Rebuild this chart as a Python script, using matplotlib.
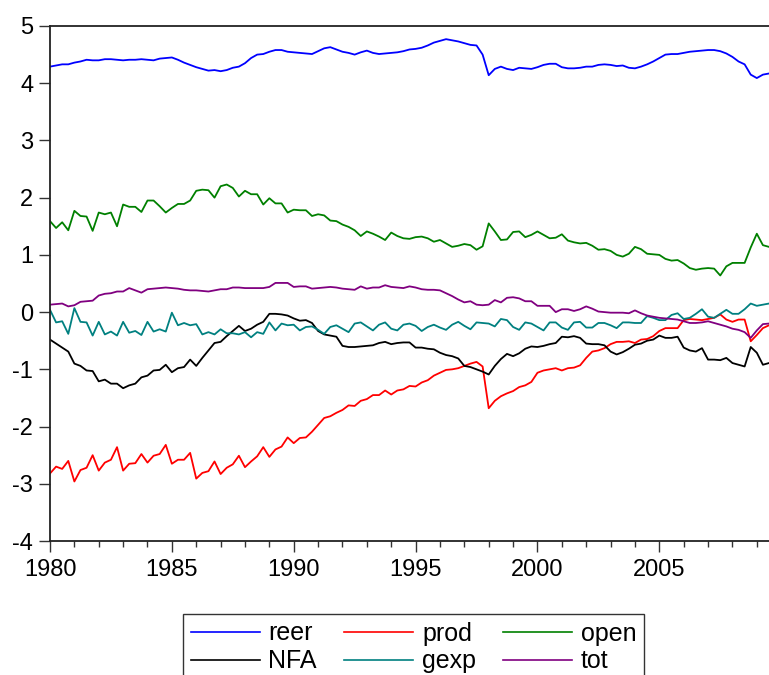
import numpy as np
import matplotlib
matplotlib.use("Agg")
import matplotlib.pyplot as plt
from matplotlib.ticker import MultipleLocator

plt.rcParams['font.family'] = ['Liberation Sans', 'DejaVu Sans']
plt.rcParams['axes.unicode_minus'] = False

# quarterly series, 1980Q1 - 2009Q3
start_year = 1980
n_obs = 119

reer = [4.29, 4.31, 4.33, 4.33, 4.36, 4.38, 4.41, 4.40, 4.40, 4.42,
        4.42, 4.41, 4.40, 4.41, 4.41, 4.42, 4.41, 4.40, 4.43, 4.44,
        4.45, 4.41, 4.36, 4.32, 4.28, 4.25, 4.22, 4.23, 4.21, 4.23,
        4.27, 4.29, 4.35, 4.44, 4.50, 4.51, 4.55, 4.58, 4.58, 4.55,
        4.54, 4.53, 4.52, 4.51, 4.56, 4.61, 4.63, 4.59, 4.55, 4.53,
        4.50, 4.54, 4.57, 4.53, 4.51, 4.52, 4.53, 4.54, 4.56, 4.59,
        4.60, 4.62, 4.66, 4.71, 4.74, 4.77, 4.75, 4.73, 4.70, 4.67,
        4.66, 4.50, 4.14, 4.25, 4.29, 4.25, 4.23, 4.27, 4.26, 4.25,
        4.28, 4.32, 4.34, 4.34, 4.28, 4.26, 4.26, 4.27, 4.29, 4.29,
        4.32, 4.33, 4.32, 4.30, 4.31, 4.27, 4.26, 4.29, 4.33, 4.38,
        4.44, 4.50, 4.51, 4.51, 4.53, 4.55, 4.56, 4.57, 4.58, 4.58,
        4.56, 4.52, 4.46, 4.38, 4.33, 4.15, 4.09, 4.15, 4.17]

prod = [-2.82, -2.70, -2.74, -2.60, -2.96, -2.76, -2.72, -2.50, -2.77, -2.63,
        -2.58, -2.36, -2.77, -2.65, -2.64, -2.48, -2.63, -2.51, -2.48, -2.32,
        -2.65, -2.58, -2.58, -2.46, -2.91, -2.81, -2.78, -2.61, -2.83, -2.72,
        -2.66, -2.51, -2.71, -2.61, -2.52, -2.36, -2.53, -2.40, -2.35, -2.19,
        -2.29, -2.20, -2.19, -2.09, -1.97, -1.85, -1.82, -1.76, -1.71, -1.63,
        -1.64, -1.55, -1.52, -1.45, -1.45, -1.37, -1.44, -1.37, -1.35, -1.29,
        -1.30, -1.23, -1.19, -1.11, -1.06, -1.01, -1.00, -0.98, -0.94, -0.90,
        -0.87, -0.95, -1.68, -1.55, -1.47, -1.42, -1.38, -1.31, -1.28, -1.22,
        -1.06, -1.02, -1.00, -0.98, -1.02, -0.98, -0.97, -0.93, -0.80, -0.69,
        -0.67, -0.63, -0.56, -0.52, -0.52, -0.51, -0.54, -0.48, -0.47, -0.42,
        -0.33, -0.28, -0.28, -0.28, -0.14, -0.12, -0.13, -0.14, -0.12, -0.10,
        -0.04, -0.13, -0.17, -0.13, -0.13, -0.51, -0.40, -0.28, -0.23]

open_ = [1.59, 1.47, 1.57, 1.43, 1.77, 1.68, 1.67, 1.42, 1.74, 1.71,
         1.74, 1.50, 1.88, 1.84, 1.84, 1.75, 1.95, 1.95, 1.85, 1.74,
         1.82, 1.89, 1.89, 1.95, 2.12, 2.14, 2.13, 2.00, 2.20, 2.23,
         2.17, 2.02, 2.12, 2.06, 2.06, 1.88, 1.99, 1.90, 1.90, 1.74,
         1.79, 1.78, 1.78, 1.68, 1.71, 1.69, 1.60, 1.59, 1.53, 1.49,
         1.43, 1.33, 1.41, 1.37, 1.32, 1.26, 1.39, 1.33, 1.29, 1.28,
         1.31, 1.32, 1.29, 1.23, 1.26, 1.20, 1.14, 1.16, 1.19, 1.17,
         1.09, 1.15, 1.55, 1.41, 1.26, 1.27, 1.40, 1.41, 1.31, 1.35,
         1.41, 1.35, 1.29, 1.30, 1.36, 1.25, 1.22, 1.20, 1.21, 1.16,
         1.09, 1.10, 1.07, 1.00, 0.97, 1.02, 1.14, 1.10, 1.02, 1.01,
         1.00, 0.93, 0.90, 0.91, 0.85, 0.77, 0.74, 0.76, 0.77, 0.76,
         0.64, 0.80, 0.86, 0.86, 0.86, 1.13, 1.37, 1.17, 1.14]

nfa = [-0.48, -0.55, -0.62, -0.69, -0.90, -0.94, -1.02, -1.03, -1.21, -1.18,
       -1.25, -1.25, -1.33, -1.28, -1.25, -1.14, -1.11, -1.02, -1.01, -0.92,
       -1.05, -0.98, -0.96, -0.83, -0.94, -0.80, -0.67, -0.54, -0.52, -0.42,
       -0.33, -0.24, -0.33, -0.29, -0.22, -0.17, -0.03, -0.03, -0.04, -0.06,
       -0.11, -0.15, -0.14, -0.19, -0.33, -0.39, -0.41, -0.43, -0.59, -0.61,
       -0.61, -0.60, -0.59, -0.58, -0.54, -0.52, -0.56, -0.54, -0.53, -0.53,
       -0.62, -0.62, -0.64, -0.65, -0.71, -0.75, -0.77, -0.81, -0.94, -0.96,
       -1.00, -1.04, -1.09, -0.94, -0.82, -0.73, -0.77, -0.72, -0.64, -0.60,
       -0.61, -0.59, -0.56, -0.54, -0.43, -0.44, -0.42, -0.45, -0.55, -0.56,
       -0.56, -0.58, -0.69, -0.74, -0.70, -0.64, -0.57, -0.55, -0.50, -0.48,
       -0.41, -0.45, -0.45, -0.43, -0.62, -0.67, -0.69, -0.63, -0.83, -0.83,
       -0.84, -0.80, -0.89, -0.92, -0.95, -0.61, -0.71, -0.92, -0.89]

gexp = [0.04, -0.18, -0.16, -0.38, 0.07, -0.17, -0.18, -0.41, -0.17, -0.39,
        -0.34, -0.41, -0.17, -0.36, -0.33, -0.40, -0.17, -0.34, -0.30, -0.34,
        -0.01, -0.23, -0.19, -0.23, -0.21, -0.39, -0.35, -0.39, -0.30, -0.37,
        -0.37, -0.39, -0.35, -0.44, -0.35, -0.38, -0.18, -0.32, -0.20, -0.23,
        -0.22, -0.32, -0.26, -0.25, -0.31, -0.38, -0.26, -0.23, -0.29, -0.35,
        -0.20, -0.18, -0.25, -0.32, -0.22, -0.18, -0.29, -0.32, -0.22, -0.20,
        -0.24, -0.33, -0.26, -0.22, -0.27, -0.31, -0.22, -0.17, -0.24, -0.30,
        -0.18, -0.19, -0.20, -0.25, -0.12, -0.14, -0.26, -0.31, -0.18, -0.20,
        -0.26, -0.32, -0.18, -0.18, -0.27, -0.31, -0.18, -0.17, -0.27, -0.27,
        -0.19, -0.19, -0.23, -0.28, -0.18, -0.18, -0.19, -0.19, -0.07, -0.10,
        -0.14, -0.14, -0.05, -0.02, -0.12, -0.10, -0.03, 0.05, -0.08, -0.10,
        -0.03, 0.04, -0.03, -0.03, 0.05, 0.15, 0.11, 0.13, 0.15]

tot = [0.13, 0.14, 0.15, 0.10, 0.12, 0.18, 0.19, 0.20, 0.29, 0.32,
       0.33, 0.36, 0.36, 0.42, 0.38, 0.34, 0.40, 0.41, 0.42, 0.43,
       0.42, 0.41, 0.39, 0.38, 0.38, 0.37, 0.36, 0.38, 0.40, 0.40,
       0.43, 0.43, 0.42, 0.42, 0.42, 0.42, 0.44, 0.51, 0.51, 0.51,
       0.44, 0.45, 0.45, 0.41, 0.42, 0.43, 0.44, 0.43, 0.41, 0.40,
       0.39, 0.45, 0.41, 0.43, 0.43, 0.47, 0.44, 0.43, 0.42, 0.45,
       0.43, 0.40, 0.39, 0.39, 0.38, 0.33, 0.28, 0.22, 0.17, 0.19,
       0.13, 0.12, 0.13, 0.21, 0.17, 0.25, 0.26, 0.24, 0.19, 0.19,
       0.11, 0.11, 0.11, 0.00, 0.05, 0.05, 0.02, 0.05, 0.10, 0.06,
       0.01, 0.00, -0.01, -0.01, -0.01, -0.02, 0.03, -0.02, -0.06, -0.08,
       -0.10, -0.11, -0.12, -0.13, -0.16, -0.19, -0.19, -0.18, -0.16, -0.19,
       -0.22, -0.25, -0.29, -0.31, -0.35, -0.45, -0.32, -0.21, -0.20]

series = [("reer", reer, "#0000ff"),
          ("prod", prod, "#ff0000"),
          ("open", open_, "#008000"),
          ("NFA", nfa, "#000000"),
          ("gexp", gexp, "#008080"),
          ("tot", tot, "#800080")]

t = start_year + np.arange(n_obs) / 4.0

fig = plt.figure(figsize=(7.69, 6.75), dpi=100)
ax = fig.add_axes([50 / 769, 1 - 541 / 675, 719 / 769, 515 / 675])

lines = {}
for name, vals, col in series:
    lines[name], = ax.plot(t, vals, color=col, lw=1.3, label=name)

ax.set_xlim(t[0], t[-1])
ax.set_ylim(-4, 5)
ax.xaxis.set_major_locator(MultipleLocator(5))
ax.xaxis.set_minor_locator(MultipleLocator(1))
ax.yaxis.set_major_locator(MultipleLocator(1))

ax.tick_params(axis='both', which='major', labelsize=17, direction='out', width=1, color='#333333')
ax.tick_params(axis='y', length=8, pad=4)
ax.tick_params(axis='x', which='major', length=8, pad=5)
ax.tick_params(axis='x', which='minor', length=4, width=1, color='#333333')

for side in ['left', 'bottom', 'top']:
    ax.spines[side].set_linewidth(1.3)
    ax.spines[side].set_color('#222222')
ax.spines['right'].set_visible(False)

# legend: two rows, three columns
order = ["reer", "NFA", "prod", "gexp", "open", "tot"]
leg = fig.legend([lines[k] for k in order], order, ncol=3,
                 loc='upper left', bbox_to_anchor=(183 / 769, 1 - 614 / 675),
                 fontsize=18, frameon=True, fancybox=False, framealpha=1,
                 handlelength=2.76, handletextpad=0.36, columnspacing=1.08,
                 labelspacing=0.15, borderpad=0.3, borderaxespad=0)
leg.get_frame().set_edgecolor('#333333')
leg.get_frame().set_linewidth(1.0)
for h in leg.get_lines():
    h.set_linewidth(1.2)

fig.savefig("out.png", dpi=100)
